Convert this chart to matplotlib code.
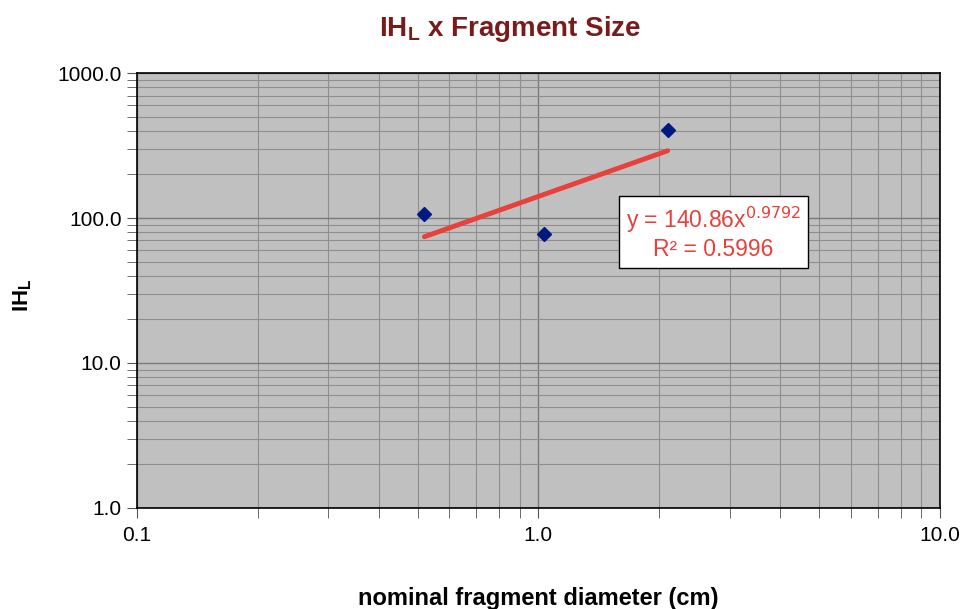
import numpy as np
import matplotlib
matplotlib.use('Agg')
import matplotlib.pyplot as plt
from matplotlib.ticker import LogLocator, NullFormatter, FuncFormatter

plt.rcParams['font.family'] = ['Liberation Sans', 'DejaVu Sans']

# Données
diametre = [0.52, 1.03, 2.1]
ihl = [107, 78, 405]

# Tendance puissance affichée (y = a x^b)
coef_a = 140.86
coef_b = 0.9792
r2 = 0.5996

fig = plt.figure(figsize=(9.66, 6.09), dpi=100)
ax = fig.add_axes([0.1418, 0.166, 0.831, 0.714])
ax.set_facecolor('#c0c0c0')

ax.set_xscale('log')
ax.set_yscale('log')
ax.set_xlim(0.1, 10)
ax.set_ylim(1, 1000)

# Grille majeure et mineure
ax.xaxis.set_minor_locator(LogLocator(base=10, subs=np.arange(2, 10)))
ax.yaxis.set_minor_locator(LogLocator(base=10, subs=np.arange(2, 10)))
ax.xaxis.set_minor_formatter(NullFormatter())
ax.yaxis.set_minor_formatter(NullFormatter())
ax.grid(True, which='major', color='#7a7a7a', lw=1.0)
ax.grid(True, which='minor', color='#8e8e8e', lw=0.8)
ax.set_axisbelow(True)

fmt = FuncFormatter(lambda v, p: f'{v:.1f}')
ax.xaxis.set_major_formatter(fmt)
ax.yaxis.set_major_formatter(fmt)
ax.tick_params(axis='both', which='major', labelsize=15, length=7, color='#555555')
ax.tick_params(axis='both', which='minor', length=7, color='#555555')
ax.tick_params(axis='x', pad=6)
ax.tick_params(axis='y', pad=4)

for s in ax.spines.values():
    s.set_color('black')
    s.set_linewidth(1.2)

# Points et courbe de tendance
ax.plot(diametre, ihl, linestyle='none', marker='D', markersize=7.5,
        color='#001a80', zorder=4)
xs = np.linspace(min(diametre), max(diametre), 50)
ax.plot(xs, coef_a * xs ** coef_b, color='#e8403a', lw=3.5,
        solid_capstyle='round', zorder=3)

txt = f'y = {coef_a:.2f}x$^{{{coef_b}}}$\nR² = {r2}'
ax.text(0.718, 0.632, txt, transform=ax.transAxes, ha='center', va='center',
        fontsize=16.5, color='#e8403a', linespacing=1.15,
        bbox=dict(boxstyle='square,pad=0.3', fc='white', ec='black', lw=1.0),
        zorder=5)

fig.text(0.528, 0.953, 'IH$_\\mathregular{L}$ x Fragment Size', fontsize=20,
         fontweight='bold', color='#7b1a1a', ha='center', va='center')
ax.set_xlabel('nominal fragment diameter (cm)', fontsize=17, fontweight='bold',
              labelpad=30)
ax.set_ylabel('IH$_\\mathregular{L}$', fontsize=16, fontweight='bold')
ax.yaxis.set_label_coords(-0.128, 0.49)

fig.savefig('out.png', dpi=100)
